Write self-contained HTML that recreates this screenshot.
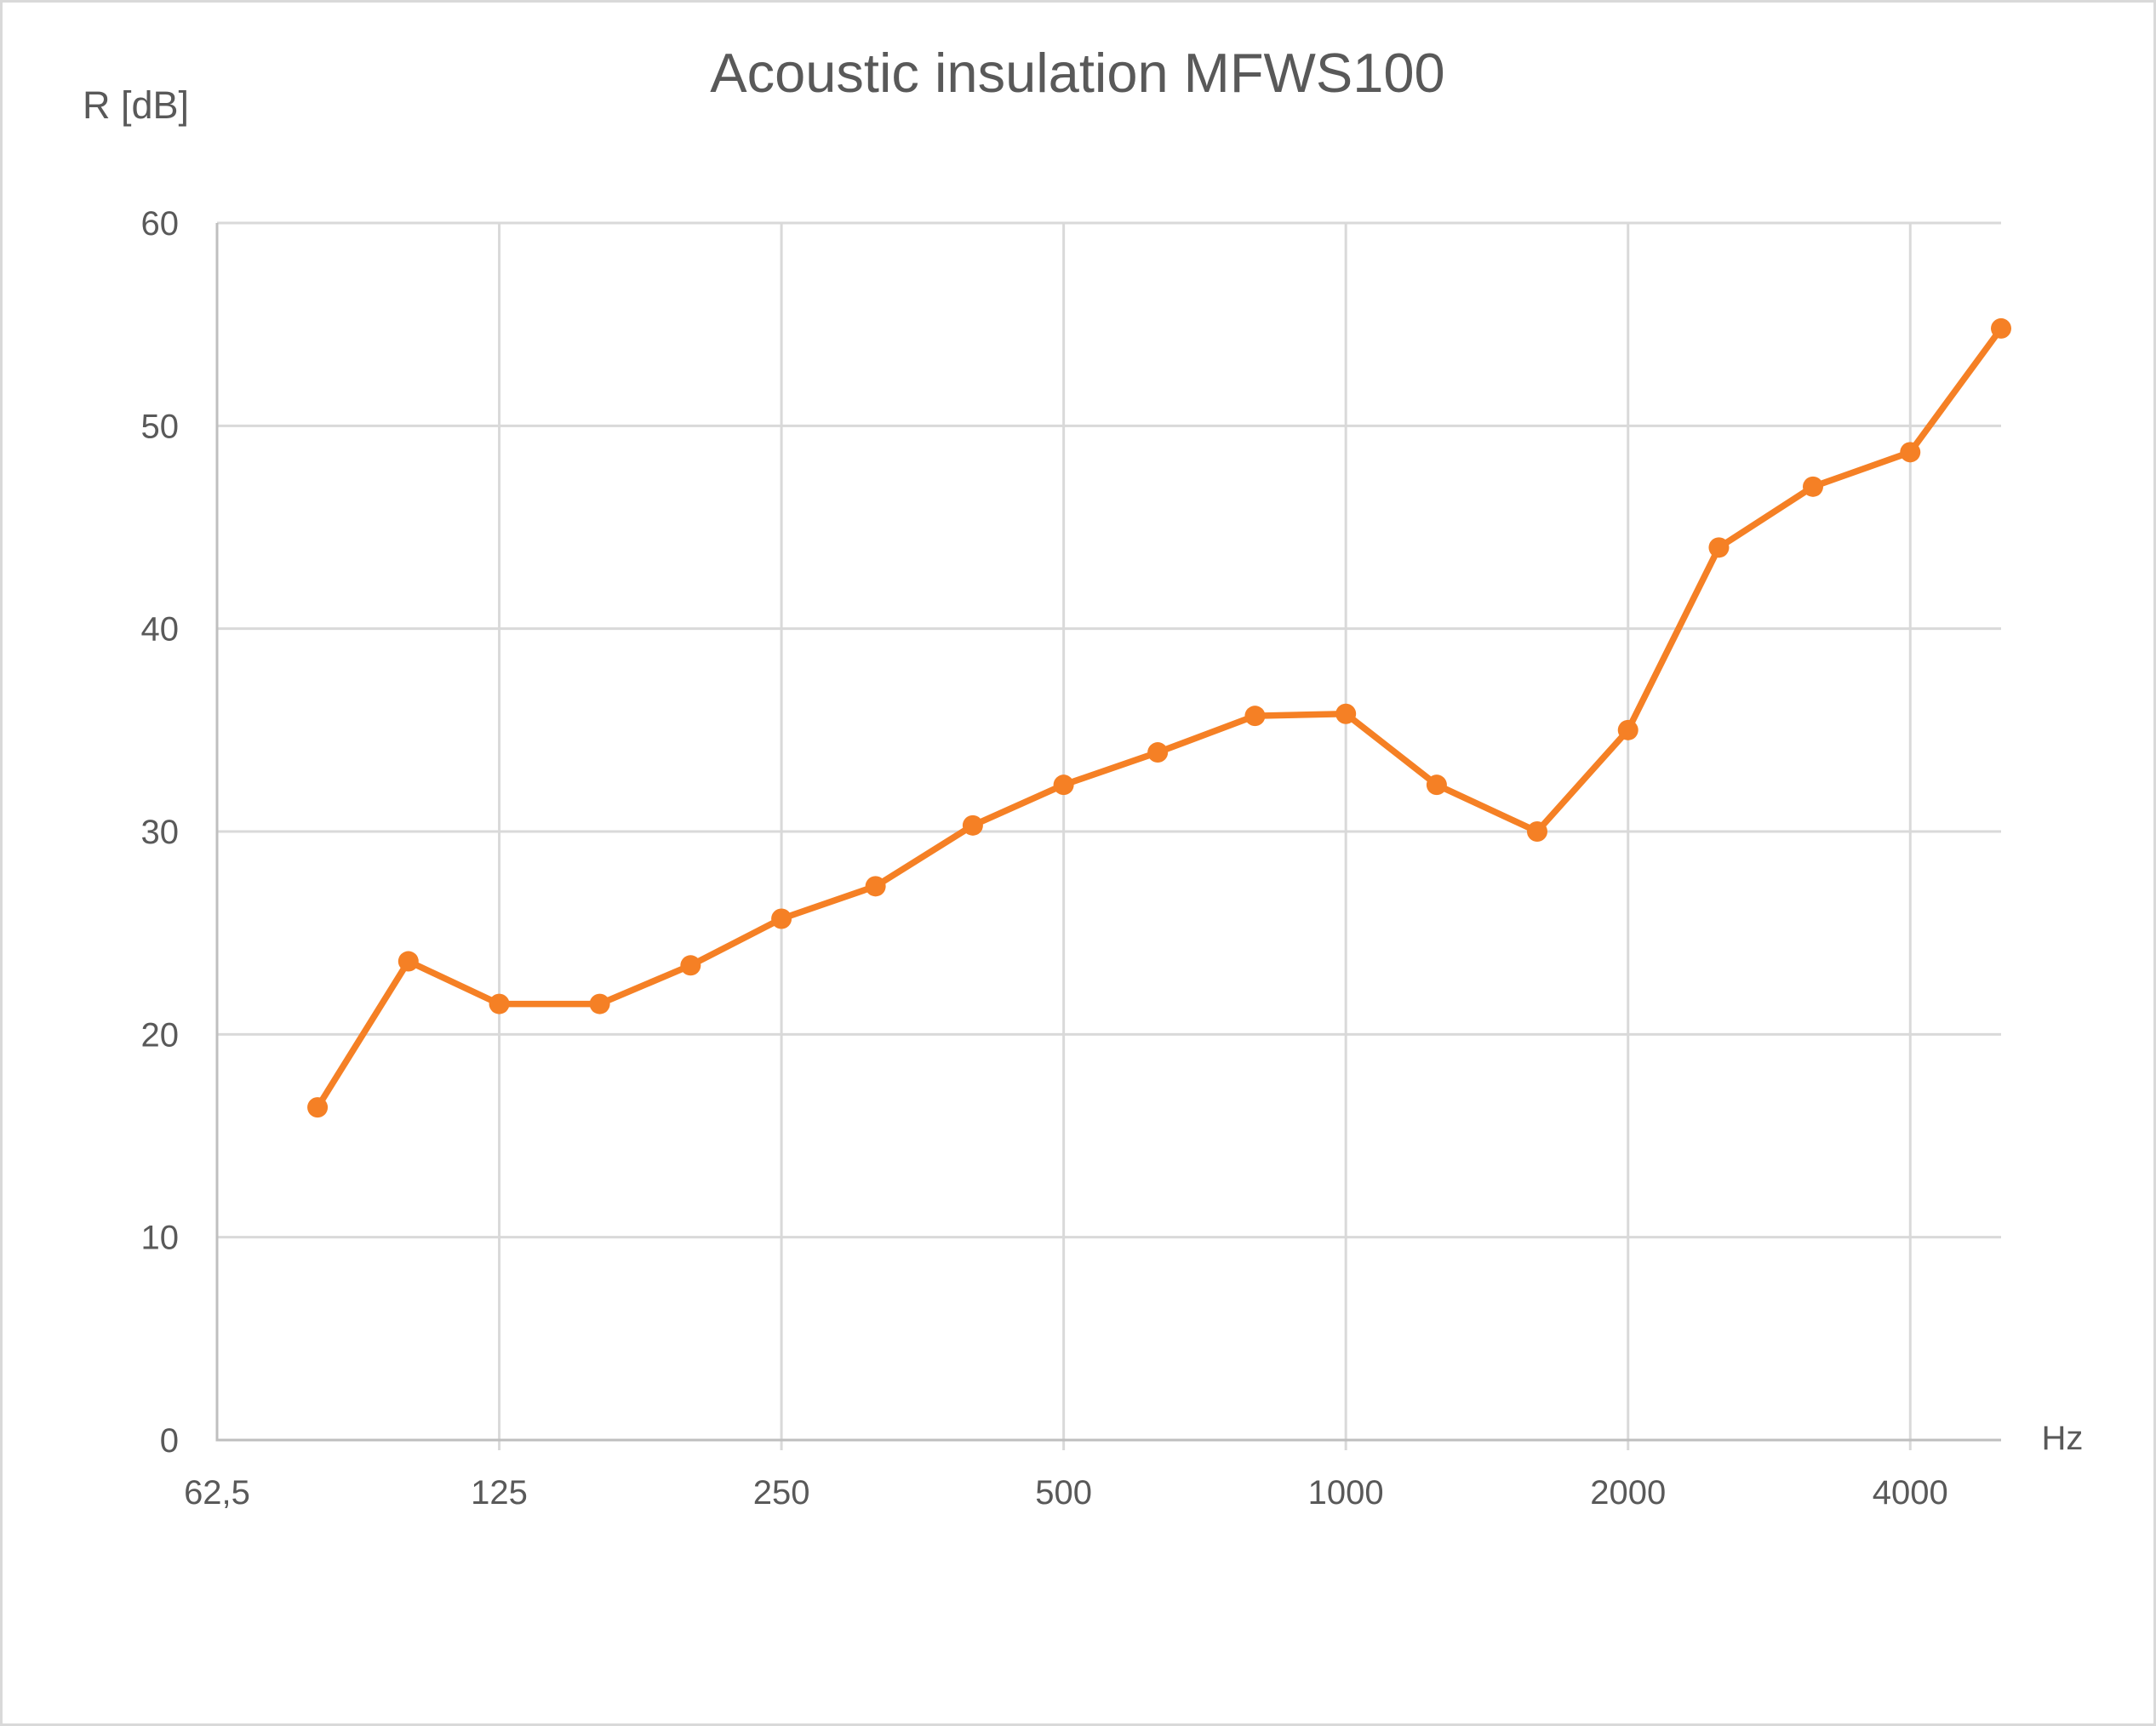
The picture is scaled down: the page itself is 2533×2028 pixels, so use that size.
<!DOCTYPE html>
<html><head><meta charset="utf-8"><style>
html,body{margin:0;padding:0;background:#fff;}
svg{display:block;font-family:"Liberation Sans",sans-serif;}
</style></head><body>
<svg id="chart" width="2533" height="2028" viewBox="0 0 2533 2028">
<rect x="1.5" y="1.5" width="2530" height="2025" fill="#fff" stroke="#d9d9d9" stroke-width="3"/>
<text x="1266" y="108" font-size="65" fill="#595959" text-anchor="middle">Acoustic insulation MFWS100</text>
<text x="97" y="139" font-size="45" fill="#595959">R [dB]</text>
<text x="2423" y="1703" font-size="40" fill="#595959" text-anchor="middle">Hz</text>
<g id="grid"></g><g id="axes"></g><g id="series"></g>
</svg>
<script>
const freqs=[80,100,125,160,200,250,315,400,500,630,800,1000,1250,1600,2000,2500,3150,4000,5000];
const values=[16.4,23.6,21.5,21.5,23.4,25.7,27.3,30.3,32.3,33.9,35.7,35.8,32.3,30.0,35.0,44.0,47.0,48.7,54.8];
const xTicks=[62.5,125,250,500,1000,2000,4000];
const xTickLabels=["62,5","125","250","500","1000","2000","4000"];
const yTicks=[0,10,20,30,40,50,60];
const NS="http://www.w3.org/2000/svg";
const L=255,R=2351,T=262,B=1692;
const fMin=62.5,fMax=5000,yMax=60;
function xs(f){return L+(Math.log2(f/fMin)/Math.log2(fMax/fMin))*(R-L);}
function ys(v){return B-(v/yMax)*(B-T);}
function mk(tag,attrs,parent){const e=document.createElementNS(NS,tag);for(const k in attrs)e.setAttribute(k,attrs[k]);parent.appendChild(e);return e;}
const grid=document.getElementById('grid'),axes=document.getElementById('axes'),ser=document.getElementById('series');
yTicks.forEach(v=>{
  if(v>0){const l=mk('line',{x1:L,x2:R,y1:ys(v),y2:ys(v),stroke:'#d9d9d9','stroke-width':3},grid);
  
  }
  const t=mk('text',{x:L-45,y:ys(v)+14,'font-size':40,fill:'#595959','text-anchor':'end'},axes);
  t.textContent=v;
  
  
});
xTicks.forEach((f,i)=>{
  if(i>0){const l=mk('line',{x1:xs(f),x2:xs(f),y1:T,y2:B+12,stroke:'#d9d9d9','stroke-width':3},grid);
  
  }
  const t=mk('text',{x:xs(f),y:1767,'font-size':40,fill:'#595959','text-anchor':'middle'},axes);
  t.textContent=xTickLabels[i];
  
  
});
const ax=mk('path',{d:`M${L} ${T} V${B} H${R}`,fill:'none',stroke:'#bfbfbf','stroke-width':3},axes);


const pts=freqs.map((f,i)=>xs(f)+','+ys(values[i])).join(' ');
const line=mk('polyline',{points:pts,fill:'none',stroke:'#f58025','stroke-width':7.5,'stroke-linejoin':'round'},ser);


freqs.forEach((f,i)=>{
  const c=mk('circle',{cx:xs(f),cy:ys(values[i]),r:12,fill:'#f58025'},ser);
  
  
});
</script>
</body></html>
